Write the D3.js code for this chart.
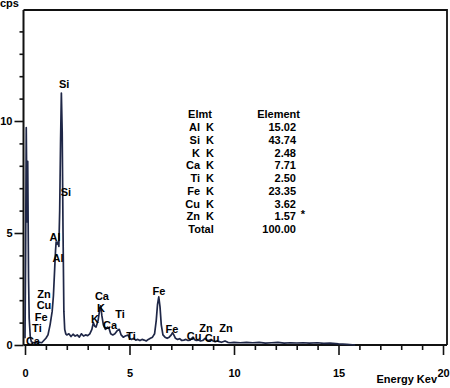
<!DOCTYPE html>
<html>
<head>
<meta charset="utf-8">
<script src="https://cdn.jsdelivr.net/npm/d3@7"></script>
<style>
  body { margin: 0; background: #fff; }
  text { font-family: 'Liberation Sans', Arial, sans-serif; font-weight: bold; font-size: 11px; fill: #000; }
</style>
</head>
<body>
<div id="show-graph"></div>
<script>
// x ticks (keV) and y ticks (cps)
const xMajor = [0, 5, 10, 15, 20]
const xMinor = [1, 2, 3, 4, 6, 7, 8, 9, 11, 12, 13, 14, 16, 17, 18, 19]
const yMajor = [0, 5, 10]
const yMinor = [1, 2, 3, 4, 6, 7, 8, 9, 11, 12, 13, 14]

// spectrum: [keV, cps]
const spectrum = [
  [0.00, 0.3], [0.03, 4.0], [0.06, 9.7], [0.10, 5.5], [0.13, 8.2], [0.17, 3.0],
  [0.20, 1.2], [0.25, 0.4], [0.30, 0.15], [0.40, 0.1], [0.50, 0.12], [0.60, 0.08],
  [0.70, 0.12], [0.80, 0.1], [0.90, 0.2], [1.00, 0.3], [1.10, 0.45], [1.20, 0.9],
  [1.30, 1.5], [1.36, 2.2], [1.42, 3.4], [1.46, 4.2], [1.49, 4.6], [1.53, 4.5],
  [1.58, 4.6], [1.62, 4.4], [1.66, 6.0], [1.70, 9.0], [1.74, 11.25], [1.78, 9.5],
  [1.82, 5.0], [1.86, 1.5], [1.90, 0.7], [1.95, 0.5], [2.00, 0.45], [2.10, 0.5],
  [2.20, 0.38], [2.30, 0.48], [2.40, 0.4], [2.50, 0.45], [2.60, 0.35], [2.70, 0.5],
  [2.80, 0.4], [2.90, 0.45], [3.00, 0.42], [3.10, 0.5], [3.20, 0.7], [3.27, 1.0],
  [3.33, 0.85], [3.40, 0.8], [3.50, 1.1], [3.56, 1.5], [3.62, 1.75], [3.68, 1.3],
  [3.75, 0.9], [3.85, 0.7], [3.95, 0.8], [4.02, 0.75], [4.10, 0.5], [4.20, 0.45],
  [4.30, 0.5], [4.42, 0.65], [4.51, 0.7], [4.60, 0.45], [4.70, 0.35], [4.80, 0.4],
  [4.93, 0.45], [5.00, 0.3], [5.10, 0.25], [5.20, 0.3], [5.30, 0.22], [5.40, 0.25],
  [5.50, 0.2], [5.60, 0.25], [5.70, 0.22], [5.80, 0.18], [5.90, 0.25], [6.00, 0.3],
  [6.10, 0.35], [6.20, 0.5], [6.28, 1.1], [6.34, 1.8], [6.40, 2.15], [6.46, 1.7],
  [6.52, 0.9], [6.60, 0.45], [6.70, 0.35], [6.80, 0.3], [6.90, 0.35], [7.00, 0.45],
  [7.06, 0.55], [7.12, 0.45], [7.20, 0.3], [7.30, 0.25], [7.40, 0.28], [7.50, 0.2],
  [7.60, 0.22], [7.70, 0.25], [7.80, 0.2], [7.90, 0.22], [8.04, 0.35], [8.10, 0.25],
  [8.20, 0.2], [8.30, 0.22], [8.40, 0.18], [8.50, 0.2], [8.63, 0.3], [8.70, 0.22],
  [8.80, 0.2], [8.90, 0.25], [9.00, 0.18], [9.10, 0.15], [9.20, 0.18], [9.30, 0.15],
  [9.40, 0.12], [9.57, 0.18], [9.70, 0.12], [9.80, 0.1], [10.0, 0.12], [10.3, 0.1],
  [10.6, 0.12], [10.9, 0.1], [11.2, 0.12], [11.5, 0.08], [11.8, 0.1], [12.1, 0.12],
  [12.4, 0.08], [12.7, 0.1], [13.0, 0.09], [13.3, 0.1], [13.6, 0.08], [14.0, 0.1],
  [14.3, 0.07], [14.6, 0.08], [15.0, 0.05], [15.4, 0.03], [15.8, 0.0]
]

// peak labels: [name, keV, cps] (text centre, baseline)
const peakLabels = [
  ['Si', 1.87, 11.47], ['Si', 1.96, 6.65], ['Al', 1.44, 4.64], ['Al', 1.58, 3.71],
  ['Zn', 0.91, 2.10], ['Cu', 0.91, 1.61], ['Fe', 0.77, 1.05], ['Ti', 0.57, 0.56],
  ['Ca', 0.38, 0.0], ['Ca', 3.68, 2.01], ['K', 3.64, 1.47], ['K', 3.35, 0.98],
  ['Ca', 4.07, 0.71], ['Ti', 4.55, 1.21], ['Ti', 5.07, 0.22], ['Fe', 6.41, 2.23],
  ['Fe', 7.03, 0.54], ['Cu', 8.09, 0.22], ['Zn', 8.66, 0.58], ['Cu', 8.95, 0.13],
  ['Zn', 9.62, 0.58]
]

// quantification table
const elements = ['Al', 'Si', 'K', 'Ca', 'Ti', 'Fe', 'Cu', 'Zn']
const shells = ['K', 'K', 'K', 'K', 'K', 'K', 'K', 'K']
const weights = ['15.02', '43.74', '2.48', '7.71', '2.50', '23.35', '3.62', '1.57']
const total = '100.00'

const width = 450
const height = 388
const box = { left: 23.5, right: 447, top: 10, bottom: 345 }

const svg = d3.select('#show-graph')
  .append('svg')
  .attr('width', width)
  .attr('height', height)

const xScale = d3.scaleLinear().domain([0, 20]).range([25, 443])
const yScale = d3.scaleLinear().domain([0, 15]).range([345, 9])

// frame (top + right)
svg.append('path')
  .attr('d', `M${box.left},${box.top}H${box.right}V${box.bottom}`)
  .attr('fill', 'none')
  .attr('stroke', '#111')
  .attr('stroke-width', 1.8)

// x axis
svg.append('g')
  .attr('transform', 'translate(0,' + box.bottom + ')')
  .call(d3.axisBottom(xScale).tickValues(xMinor).tickSize(5).tickFormat(''))
svg.append('g')
  .attr('transform', 'translate(0,' + box.bottom + ')')
  .call(d3.axisBottom(xScale).tickValues(xMajor).tickSize(10).tickPadding(14).tickFormat(d3.format('d')))

// y axis
svg.append('g')
  .attr('transform', 'translate(' + box.left + ',0)')
  .call(d3.axisLeft(yScale).tickValues(yMinor).tickSize(4).tickFormat(''))
svg.append('g')
  .attr('transform', 'translate(' + box.left + ',0)')
  .call(d3.axisLeft(yScale).tickValues(yMajor).tickSize(9).tickPadding(2).tickFormat(d3.format('d')))

svg.selectAll('.domain').remove()
svg.selectAll('.tick line').attr('stroke', '#111').attr('stroke-width', 1.6)
svg.selectAll('.tick text').attr('font-family', null).attr('font-size', null)

// axis lines
svg.append('line')
  .attr('x1', box.left).attr('x2', box.right)
  .attr('y1', box.bottom).attr('y2', box.bottom)
  .attr('stroke', '#111').attr('stroke-width', 2)
svg.append('line')
  .attr('x1', box.left).attr('x2', box.left)
  .attr('y1', box.top).attr('y2', box.bottom)
  .attr('stroke', '#111').attr('stroke-width', 2)

// spectrum
const lnFunc = d3.line()
  .x(d => xScale(d[0]))
  .y(d => yScale(d[1]))
  .curve(d3.curveLinear)

svg.append('path')
  .datum(spectrum)
  .attr('d', lnFunc)
  .attr('fill', 'none')
  .attr('stroke', '#1f2747')
  .attr('stroke-width', 1.7)
  .attr('stroke-linejoin', 'round')

// peak labels
svg.append('g')
  .selectAll('text')
  .data(peakLabels)
  .join('text')
  .attr('x', d => xScale(d[1]))
  .attr('y', d => yScale(d[2]))
  .attr('text-anchor', 'middle')
  .text(d => d[0])

// axis titles
svg.append('text').attr('x', 0).attr('y', 7).text('cps')
svg.append('text').attr('x', 437).attr('y', 383).attr('text-anchor', 'end').text('Energy Kev')

// table
const table = svg.append('g')
const rowY = i => 131 + i * 12.75
table.append('text').attr('x', 200).attr('y', 118).attr('text-anchor', 'middle').text('Elmt')
table.append('text').attr('x', 300).attr('y', 118).attr('text-anchor', 'end').text('Element')

elements.forEach((el, i) => {
  table.append('text').attr('x', 200).attr('y', rowY(i)).attr('text-anchor', 'end').text(el)
  table.append('text').attr('x', 206).attr('y', rowY(i)).text(shells[i])
  table.append('text').attr('x', 296).attr('y', rowY(i)).attr('text-anchor', 'end').text(weights[i])
})
table.append('text').attr('x', 201).attr('y', rowY(8)).attr('text-anchor', 'middle').text('Total')
table.append('text').attr('x', 296).attr('y', rowY(8)).attr('text-anchor', 'end').text(total)
table.append('text').attr('x', 303).attr('y', rowY(6) + 10).attr('text-anchor', 'middle').text('*')
</script>
</body>
</html>
